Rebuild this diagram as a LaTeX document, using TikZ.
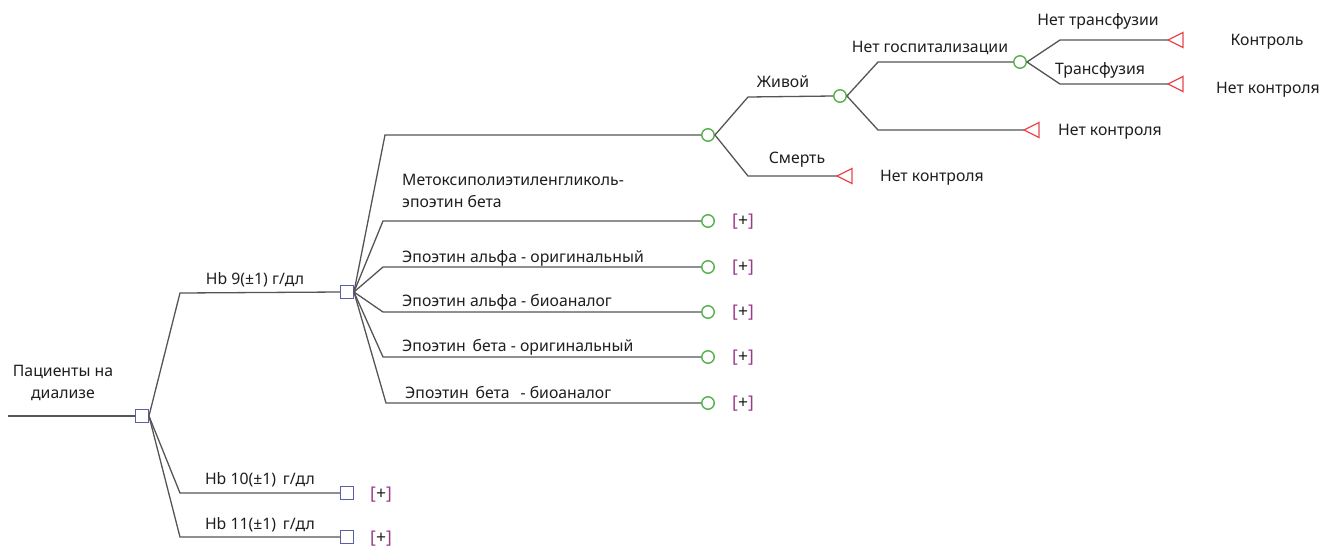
\documentclass[tikz,border=0pt]{standalone}
\usepackage{fontspec}
\setmainfont{Noto Sans}
\definecolor{edge}{HTML}{555555}
\definecolor{decblue}{HTML}{5A5EA8}
\definecolor{chgreen}{HTML}{55B04E}
\definecolor{termred}{HTML}{E8474C}
\definecolor{brk}{HTML}{9C3A8A}
\definecolor{txt}{HTML}{1E1E1E}
\begin{document}
\begin{tikzpicture}[x=1pt,y=-1pt,
  br/.style={draw=edge,line width=1.3pt},
  dec/.style={draw=decblue,line width=1.4pt,minimum size=12.5pt,inner sep=0pt,fill=white},
  chance/.style={circle,draw=chgreen,line width=1.4pt,minimum size=12.5pt,inner sep=0pt,fill=white},
  term/.style={draw=termred,line width=1.3pt},
  lbl/.style={font=\fontsize{15.8}{22}\selectfont,text=txt,inner sep=0pt,align=center},
  plus/.style={font=\fontsize{17.5}{18}\selectfont,text=txt,inner sep=0pt}
]
\useasboundingbox (0,0) rectangle (1322,547);
\newcommand{\plusmark}{{\color{brk}[}+{\color{brk}]}}
% terminal triangle pointing left, apex at the given point
\newcommand{\termtri}[1]{\draw[term] (#1) -- ++(15,-7.5) -- ++(0,15) -- cycle;}

% root and first decision
\coordinate (r0) at (8,416);
\node[dec] (d0) at (142,416) {};
\draw[br] (r0) -- (d0.west);
\node[lbl] at (63,383) {Пациенты на\\диализе};

% Hb levels
\node[dec] (d1) at (347,292) {};
\node[dec] (d2) at (347,493) {};
\node[dec] (d3) at (347,537) {};
\coordinate (j1) at (180,293);
\coordinate (j2) at (180,493);
\coordinate (j3) at (180,537);
\draw[br] (d0.east) -- (j1) -- (d1.west);
\draw[br] (d0.east) -- (j2) -- (d2.west);
\draw[br] (d0.east) -- (j3) -- (d3.west);
\node[lbl] at (255,280) {Hb 9(±1) г/дл};
\node[lbl] at (260,480) {Hb 10(±1)\, г/дл};
\node[lbl] at (260,525) {Hb 11(±1)\, г/дл};
\node[plus] (p2) at (381,495) {\plusmark};
\node[plus] (p3) at (381,539) {\plusmark};

% drug strategies
\node[chance] (c0) at (708,135) {};
\node[chance] (c1) at (708,221) {};
\node[chance] (c2) at (708,267) {};
\node[chance] (c3) at (708,312) {};
\node[chance] (c4) at (708,357) {};
\node[chance] (c5) at (708,403) {};
\coordinate (k0) at (385,135);
\coordinate (k1) at (383,221);
\coordinate (k2) at (383,267);
\coordinate (k3) at (383,312);
\coordinate (k4) at (383,357);
\coordinate (k5) at (386,403);
\foreach \i in {0,...,5}{\draw[br] (d1.east) -- (k\i) -- (c\i.west);}
\node[lbl,align=left,anchor=west] at (402,191) {Метоксиполиэтиленгликоль-\\эпоэтин бета};
\node[lbl,anchor=west] at (402,258) {Эпоэтин альфа - оригинальный};
\node[lbl,anchor=west] at (402,302) {Эпоэтин альфа - биоаналог};
\node[lbl,anchor=west] at (402,347) {Эпоэтин\, бета - оригинальный};
\node[lbl,anchor=west] at (405,392) {Эпоэтин\, бета\, \ - биоаналог};
\foreach \i in {1,...,5}{\node[plus] (q\i) at ([xshift=35pt,yshift=-1pt]c\i.center) {\plusmark};}

% survival
\node[chance] (c6) at (840,96) {};
\coordinate (t0) at (837,176);
\coordinate (k6) at (748,97);
\coordinate (k7) at (748,176);
\draw[br] (c0.east) -- (k6) -- (c6.west);
\draw[br] (c0.east) -- (k7) -- (t0);
\termtri{t0}
\node[lbl] at (783,82) {Живой};
\node[lbl] at (797,160) {Смерть};
\node[lbl] at (932,178) {Нет контроля};

% hospitalisation
\node[chance] (c7) at (1020,62) {};
\coordinate (t1) at (1024,130);
\coordinate (k8) at (878,62);
\coordinate (k9) at (878,130);
\draw[br] (c6.east) -- (k8) -- (c7.west);
\draw[br] (c6.east) -- (k9) -- (t1);
\termtri{t1}
\node[lbl] at (930,48) {Нет госпитализации};
\node[lbl] at (1110,132) {Нет контроля};

% transfusion
\coordinate (t2) at (1168,40);
\coordinate (t3) at (1168,84);
\coordinate (k10) at (1060,40);
\coordinate (k11) at (1060,84);
\draw[br] (c7.east) -- (k10) -- (t2);
\draw[br] (c7.east) -- (k11) -- (t3);
\termtri{t2}
\termtri{t3}
\node[lbl] at (1098,21) {Нет трансфузии};
\node[lbl] at (1100,70) {Трансфузия};
\node[lbl] at (1267,42) {Контроль};
\node[lbl] at (1268,90) {Нет контроля};
\end{tikzpicture}
\end{document}
